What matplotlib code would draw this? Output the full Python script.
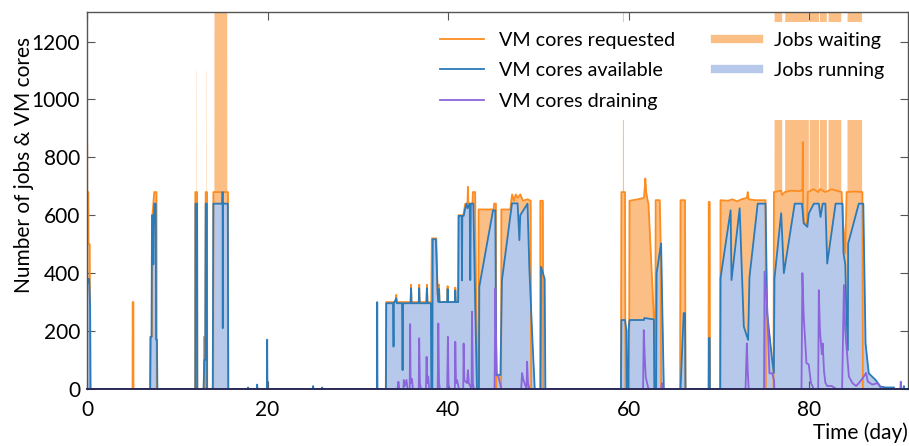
import matplotlib
matplotlib.use("Agg")
import matplotlib.pyplot as plt
from matplotlib.lines import Line2D

plt.rcParams['font.family'] = ['Lato', 'DejaVu Sans']
plt.rcParams['font.size'] = 15

# ---------------- data (time in days) ----------------
t_req = [0, 0.15, 0.17, 0.3, 0.35, 5.05, 5.06, 5.14, 5.15,
         7.0, 7.02, 7.2, 7.25, 7.45, 7.7, 7.72,
         11.98, 12.0, 12.2, 12.22, 12.95, 12.97, 13.05, 13.1, 13.15, 13.3, 13.32,
         13.98, 14.0, 15.62, 15.65,
         33.1, 33.15, 34.2, 34.26, 34.32, 35.85, 35.9, 35.95, 36.75, 36.8, 36.85,
         37.6, 37.66, 37.72, 38.14, 38.2, 38.7, 38.84, 38.95, 39.0, 39.05,
         39.9, 39.95, 40.0, 40.75, 40.8, 40.85, 41.12, 41.17, 41.7, 41.9, 42.15,
         42.2, 42.25, 42.7, 42.75, 42.8, 43.0, 43.2,
         43.36, 43.38, 45.05, 45.1, 45.3, 45.34, 45.88, 45.9, 46.9, 47.0, 47.1,
         47.3, 47.5, 47.7, 48.0, 48.3, 48.8, 49.15, 49.2, 50.2, 50.22, 50.5, 50.55,
         59.15, 59.2, 59.6, 59.65, 60.05, 60.1, 61.0, 61.7, 61.8, 61.85, 61.95,
         62.1, 62.2, 62.8, 62.9, 62.95, 63.0, 63.45, 63.55, 63.6,
         65.7, 65.75, 66.25, 66.3, 68.85, 68.88, 68.98, 69.0,
         70.15, 70.18, 71.0, 71.5, 72.0, 72.5, 73.1, 73.2, 73.3, 74.0, 75.17, 75.2,
         76.05, 76.1, 76.9, 77.0, 77.3, 78.0, 79.0, 79.25, 79.3, 79.33, 79.4,
         79.75, 79.85, 80.5, 81.0, 81.2, 81.8, 82.5, 83.0, 83.6, 83.7, 84.0,
         84.15, 85.0, 85.9, 85.95, 90.9]
v_req = [680, 680, 500, 500, 0, 0, 300, 300, 0,
         0, 180, 180, 600, 680, 680, 0,
         0, 680, 680, 0, 0, 180, 180, 0, 680, 680, 0,
         0, 680, 680, 0,
         0, 300, 300, 325, 300, 300, 360, 300, 300, 360, 300,
         300, 360, 300, 300, 520, 520, 330, 300, 360, 300,
         300, 355, 300, 300, 350, 300, 300, 600, 600, 640, 640,
         698, 640, 640, 680, 680, 680, 0,
         0, 620, 620, 640, 640, 0, 0, 620, 620, 650, 672,
         650, 672, 660, 672, 650, 655, 650, 0, 0, 650, 650, 0,
         0, 680, 680, 0, 0, 650, 655, 660, 700, 727, 680,
         652, 640, 245, 0, 0, 652, 652, 503, 0,
         0, 652, 652, 0, 0, 646, 646, 0,
         0, 652, 650, 655, 648, 655, 660, 680, 655, 652, 652, 0,
         0, 680, 685, 670, 680, 685, 683, 690, 853, 640, 572,
         572, 680, 690, 680, 690, 680, 690, 685, 680, 600, 468,
         680, 682, 680, 0, 0]

t_avail = [0, 0.15, 0.25, 0.35, 0.4, 7.0, 7.05, 7.15, 7.2, 7.3, 7.35, 7.45, 7.62,
           7.65, 7.75, 7.8, 12.0, 12.02, 12.2, 12.22, 12.9, 12.92, 13.0, 13.1,
           13.15, 13.28, 13.3, 13.9, 13.93, 14.0, 15.0, 15.02, 15.04, 15.06, 15.6,
           15.65, 17.8, 17.85, 17.9, 18.8, 18.85, 18.9, 19.93, 19.96, 19.99,
           25.0, 25.05, 25.1, 26.0, 26.05, 26.1, 32.13, 32.15, 32.18, 33.12,
           33.15, 33.9, 33.96, 34.0, 34.26, 34.32, 34.9, 34.96, 35.02, 35.85, 35.9,
           35.95, 36.75, 36.8, 36.85, 37.6, 37.66, 37.72, 38.1, 38.14, 38.26, 38.3,
           38.65, 38.84, 38.95, 39.0, 39.05, 39.9, 39.95, 40.0, 40.75, 40.8, 40.85,
           41.12, 41.17, 41.5, 41.54, 41.58, 41.73, 41.9, 42.05, 42.15, 42.4,
           42.46, 42.52, 42.8, 43.0, 43.2, 43.42, 43.46, 44.98, 45.23, 45.34, 45.8,
           45.97, 47.08, 47.7, 47.9, 48.0, 48.8, 49.0, 49.3, 49.6, 50.25, 50.3,
           50.7, 50.78,
           59.15, 59.2, 59.6, 59.75, 59.8, 59.95, 60.0, 60.1, 61.7, 61.75, 62.8,
           62.85, 63.05, 63.1, 63.6, 63.9, 65.75, 66.1, 66.25, 66.3, 68.88, 68.9,
           68.98, 69.0,
           70.15, 70.18, 71.3, 71.4, 72.3, 72.76, 73.24, 73.39, 74.3, 75.17, 75.35,
           75.9, 76.09, 76.16, 76.9, 77.2, 78.4, 79.2, 79.4, 79.8, 79.97, 80.52,
           81.07, 81.26, 81.5, 81.8, 82.0, 82.93, 83.7, 83.8, 84.0, 84.1, 84.29,
           84.32, 85.5, 86.0, 86.25, 86.6, 87.36, 87.9, 88.5, 89.4, 89.45, 90.45,
           90.5, 90.55, 90.9]
v_avail = [360, 380, 380, 280, 0, 0, 180, 180, 600, 600, 430, 640, 640,
           170, 170, 0, 0, 640, 640, 0, 0, 10, 100, 100,
           640, 640, 0, 0, 10, 640, 640, 680, 210, 640, 640,
           0, 0, 5, 0, 0, 15, 0, 0, 170, 0,
           0, 10, 0, 0, 5, 0, 0, 300, 0, 0,
           296, 296, 146, 296, 313, 296, 296, 65, 296, 296, 348,
           296, 296, 348, 296, 296, 348, 296, 296, 0, 0, 517,
           517, 330, 300, 345, 300, 300, 345, 300, 300, 340, 300,
           300, 598, 598, 375, 598, 598, 624, 640, 624, 640,
           376, 640, 640, 300, 0, 0, 353, 617, 617, 48, 48,
           376, 641, 641, 514, 600, 640, 420, 200, 0, 0, 422,
           380, 0,
           0, 238, 238, 203, 0, 0, 203, 238, 238, 245, 240,
           0, 0, 400, 503, 0, 0, 262, 262, 0, 0, 176,
           176, 0,
           0, 382, 617, 376, 624, 215, 169, 386, 640, 640, 262,
           100, 55, 382, 607, 400, 640, 640, 572, 560, 607, 640,
           640, 594, 640, 640, 433, 640, 640, 470, 430, 300, 134,
           502, 640, 640, 157, 54, 31, 8, 5, 5, 0, 0,
           10, 0, 0]

t_drain = [0, 34.4, 34.5, 34.6, 35.05, 35.1, 35.2, 35.4, 35.5, 35.75, 35.8, 35.85,
           36.0, 36.1, 36.75, 36.8, 36.88, 37.0, 37.55, 37.62, 37.7, 37.8, 37.9,
           38.85, 38.92, 39.0, 39.1, 39.9, 39.98, 40.05, 40.2, 40.75, 40.8, 40.88,
           41.0, 41.2, 41.68, 41.72, 41.8, 42.1, 42.2, 42.3, 42.6, 42.65, 42.75,
           42.85, 45.15, 45.23, 45.3, 45.4, 45.6, 45.9, 48.1, 48.2, 48.35, 48.7,
           48.75, 48.85, 49.0, 61.6, 61.68, 61.8, 61.9, 62.2, 63.6, 63.7, 63.8,
           72.95, 73.1, 73.2, 73.3, 75.0, 75.06, 75.35, 75.6, 75.9, 76.1, 76.15,
           79.15, 79.25, 79.4, 79.7, 79.95, 80.2, 80.5, 81.0, 81.07, 81.2, 81.4,
           81.5, 81.65, 81.8, 82.0, 82.5, 83.0, 83.65, 83.85, 84.0, 84.4, 84.8,
           85.2, 85.5, 86.0, 86.3, 86.5, 87.0, 87.6, 88.0, 90.1, 90.15, 90.2, 90.9]
v_drain = [0, 0, 25, 0, 0, 31, 10, 31, 0, 0, 224, 20,
           35, 0, 0, 175, 20, 0, 0, 111, 20, 43, 0,
           0, 226, 20, 0, 0, 180, 15, 0, 0, 163, 20,
           30, 0, 0, 157, 30, 20, 65, 20, 0, 267, 20,
           0, 0, 347, 200, 55, 40, 0, 0, 55, 30, 0,
           94, 21, 0, 0, 203, 100, 40, 0, 0, 20, 0,
           0, 157, 60, 0, 0, 405, 283, 54, 54, 31, 0,
           0, 400, 250, 89, 85, 21, 0, 0, 341, 200, 120,
           157, 60, 21, 10, 10, 0, 0, 359, 200, 43, 20,
           10, 20, 40, 55, 25, 15, 20, 0, 0, 25, 0, 0]

t_wait = [0, 0.08, 0.1, 7.45, 7.5, 7.55, 12.03, 12.05, 12.08, 12.1, 13.17, 13.19,
          13.22, 13.24, 14.05, 14.07, 15.48, 15.5, 59.3, 59.32, 59.42, 59.44,
          76.1, 76.12, 76.95, 76.97, 77.28, 77.3, 79.9, 79.92, 79.98, 80.0, 81.05,
          81.07, 81.13, 81.15, 81.9, 81.92, 82.08, 82.1, 83.5, 83.52, 84.18, 84.2,
          85.8, 85.82]
v_wait = [850, 850, 0, 0, 730, 0, 0, 1100, 1100, 0, 0, 1100,
          1100, 0, 0, 1400, 1400, 0, 0, 1400, 1400, 0,
          0, 1400, 1400, 0, 0, 1400, 1400, 0, 0, 1400, 1400,
          0, 0, 1400, 1400, 0, 0, 1400, 1400, 0, 0, 1400,
          1400, 0]

# ---------------- style ----------------
c_req = '#fd8d21'
c_avail = '#2b7bba'
c_drain = '#8c64dc'
c_wait = '#fbbe85'
c_run = '#b7c9ea'

fig = plt.figure(figsize=(9.09, 4.46), dpi=100)
ax = fig.add_axes([0.0957, 0.128, 0.9027, 0.845])

ax.fill_between(t_req, 0, v_req, color=c_wait, lw=0)
ax.fill_between(t_wait, 0, v_wait, color=c_wait, lw=0)
ax.fill_between(t_avail, 0, v_avail, color=c_run, lw=0)
ax.plot(t_req, v_req, color=c_req, lw=1.3)
ax.plot(t_avail, v_avail, color=c_avail, lw=1.3)
ax.plot(t_drain, v_drain, color=c_drain, lw=1.3)

ax.set_xlim(0, 90.9)
ax.set_ylim(0, 1302)
ax.set_xticks([0, 20, 40, 60, 80])
ax.set_yticks([0, 200, 400, 600, 800, 1000, 1200])
ax.tick_params(direction='in', top=True, right=True, length=5.5, width=0.8,
               color='#555555', labelsize=15)
ax.tick_params(axis='x', pad=8)
ax.tick_params(axis='y', pad=5)
for s in ax.spines.values():
    s.set_color('#555555')
    s.set_linewidth(1.0)
ax.spines['bottom'].set_color('#2b2b55')
ax.spines['bottom'].set_linewidth(1.4)

ax.set_ylabel('Number of jobs & VM cores', fontsize=15)
ax.yaxis.set_label_coords(-0.064, 0.595)
ax.set_xlabel('Time (day)', fontsize=15, loc='right', labelpad=2)

handles = [Line2D([], [], color=c_req, lw=1.3),
           Line2D([], [], color=c_avail, lw=1.3),
           Line2D([], [], color=c_drain, lw=1.3),
           Line2D([], [], color=c_wait, lw=6),
           Line2D([], [], color=c_run, lw=6)]
labels = ['VM cores requested', 'VM cores available', 'VM cores draining',
          'Jobs waiting', 'Jobs running']
leg = ax.legend(handles, labels, ncol=2, loc='upper right',
                bbox_to_anchor=(0.984, 0.9735), borderaxespad=0, frameon=True,
                framealpha=1, facecolor='white', edgecolor='none', fancybox=False,
                handlelength=2.24, handletextpad=0.78, columnspacing=2.0,
                labelspacing=0.68, borderpad=0.5, fontsize=14.2)

fig.savefig('out.png', dpi=100)
